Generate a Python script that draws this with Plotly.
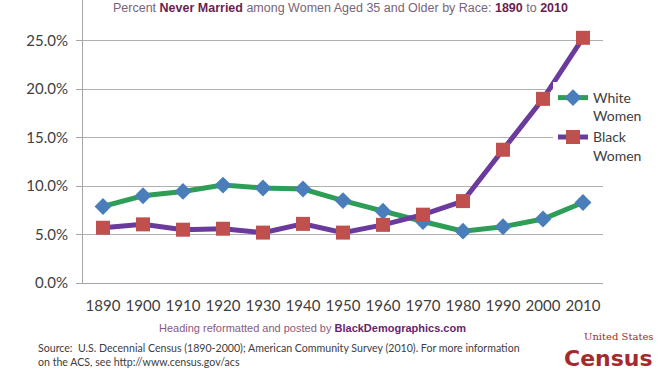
import plotly.graph_objects as go

years = ["1890", "1900", "1910", "1920", "1930", "1940", "1950",
         "1960", "1970", "1980", "1990", "2000", "2010"]
white_women = [7.9, 9.0, 9.45, 10.1, 9.8, 9.7, 8.5, 7.4, 6.35, 5.35, 5.8, 6.6, 8.3]
black_women = [5.7, 6.05, 5.5, 5.6, 5.2, 6.1, 5.2, 6.0, 7.05, 8.45, 13.75, 19.0, 25.3]
y_ticks = [0, 5, 10, 15, 20, 25]
y_tick_labels = ["0.0%", "5.0%", "10.0%", "15.0%", "20.0%", "25.0%"]

W, H = 672, 372
L, R, T, B = 83, 69, 0, 89
PW, PH = W - L - R, H - T - B


def px(x):
    return (x - L) / PW


def py(y):
    return 1 - (y - T) / PH


fig = go.Figure()
fig.add_trace(go.Scatter(
    x=years, y=white_women, name="White<br>Women", mode="lines+markers",
    line=dict(color="#2e9e56", width=5),
    marker=dict(symbol="diamond", size=13, color="#4a7ebb"),
))
fig.add_trace(go.Scatter(
    x=years, y=black_women, name="Black<br>Women", mode="lines+markers",
    line=dict(color="#6a3a9c", width=5),
    marker=dict(symbol="square", size=14, color="#c0504d"),
))

axis_font = dict(family="Lato, Carlito, Calibri, sans-serif", size=15, color="#404040")
fig.update_xaxes(
    type="category", range=[-0.5, 12.5], showline=True, linecolor="#a6a6a6", linewidth=1,
    showgrid=False, ticks="", tickfont=axis_font, tickangle=0, ticklabelstandoff=9,
)
fig.update_yaxes(
    range=[0, 29.2], tickvals=y_ticks, ticktext=y_tick_labels,
    showline=True, linecolor="#a6a6a6", linewidth=1,
    showgrid=True, gridcolor="#b0b0b0", gridwidth=1,
    ticks="outside", ticklen=6, tickcolor="#a6a6a6",
    tickfont=axis_font, zeroline=False, ticklabelstandoff=5,
)

annotations = [
    dict(x=px(340), y=py(8),
         text=("<span style='color:#7a6478'>Percent </span>"
               "<b style='color:#6a1f4e'>Never Married</b>"
               "<span style='color:#7a6478'> among Women Aged 35 and Older by Race: </span>"
               "<b style='color:#6a1f4e'>1890</b>"
               "<span style='color:#7a6478'> to </span>"
               "<b style='color:#6a1f4e'>2010</b>"),
         font=dict(family="Liberation Sans, Arial, sans-serif", size=12.5),
         xanchor="center", yanchor="middle"),
    dict(x=px(312), y=py(328),
         text=("<span style='color:#8a5a7e'>Heading reformatted and posted by </span>"
               "<b style='color:#6a1f6e'>BlackDemographics.com</b>"),
         font=dict(family="Liberation Sans, Arial, sans-serif", size=11),
         xanchor="center", yanchor="middle"),
    dict(x=px(36), y=py(370), yanchor="bottom",
         text=("Source:  U.S. Decennial Census (1890-2000); American Community Survey (2010). "
               "For more information<br>on the ACS, see http://www.census.gov/acs"),
         font=dict(family="Lato, Carlito, sans-serif", size=10.6, color="#404040"),
         xanchor="left", align="left"),
    dict(x=px(654), y=py(343), yanchor="bottom",
         text="United States",
         font=dict(family="DejaVu Serif, serif", size=10, color="#a52a2e"),
         xanchor="right", borderpad=0),
    dict(x=px(654), y=py(372), yanchor="bottom",
         text="<b>Census</b>",
         font=dict(family="DejaVu Sans, sans-serif", size=22, color="#a52a2e"),
         xanchor="right", borderpad=0),
]
for a in annotations:
    a.update(xref="paper", yref="paper", showarrow=False)

fig.update_layout(
    width=W, height=H,
    margin=dict(l=L, r=R, t=T, b=B, pad=0),
    paper_bgcolor="white", plot_bgcolor="white",
    showlegend=True,
    legend=dict(
        x=px(553), y=py(82), xanchor="left", yanchor="top",
        bgcolor="white", font=dict(family="Lato, Carlito, sans-serif", size=14, color="#404040"),
        itemwidth=30, tracegroupgap=4, valign="top",
    ),
    annotations=annotations,
)

fig.write_html("out.html", config={"displayModeBar": False},
               post_script="document.body.style.margin='0px';")
